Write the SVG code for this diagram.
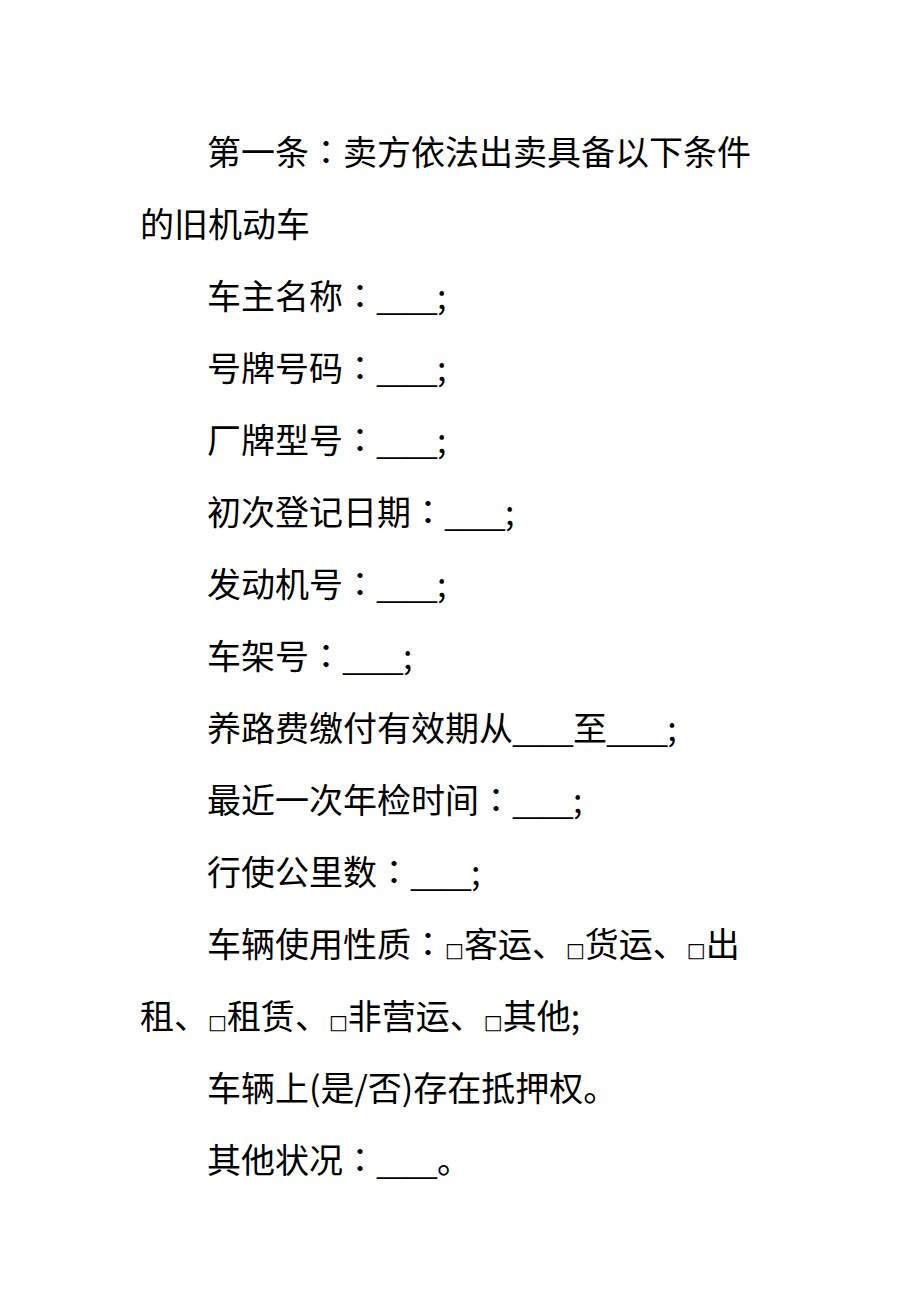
<svg xmlns="http://www.w3.org/2000/svg" width="920" height="1302" viewBox="0 0 920 1302">
<style>
text{font-family:"Noto Sans CJK SC","Noto Sans",sans-serif;font-size:34px;fill:#000}
.b{font-family:"DejaVu Sans",sans-serif;font-size:20px}
.c{font-family:"Noto Sans CJK TC",sans-serif}
.u{font-family:"Liberation Sans",sans-serif;font-size:27px}
</style>
<rect width="920" height="1302" fill="#fff"/>
<g id="doc">
<text x="207" y="165">第一条<tspan class="c">：</tspan>卖方依法出卖具备以下条件</text>
<text x="140" y="237">的旧机动车</text>
<text x="207" y="309">车主名称<tspan class="c">：</tspan><tspan class="u">____</tspan>;</text>
<text x="207" y="381">号牌号码<tspan class="c">：</tspan><tspan class="u">____</tspan>;</text>
<text x="207" y="453">厂牌型号<tspan class="c">：</tspan><tspan class="u">____</tspan>;</text>
<text x="207" y="525">初次登记日期<tspan class="c">：</tspan><tspan class="u">____</tspan>;</text>
<text x="207" y="597">发动机号<tspan class="c">：</tspan><tspan class="u">____</tspan>;</text>
<text x="207" y="669">车架号<tspan class="c">：</tspan><tspan class="u">____</tspan>;</text>
<text x="207" y="741">养路费缴付有效期从<tspan class="u">____</tspan>至<tspan class="u">____</tspan>;</text>
<text x="207" y="813">最近一次年检时间<tspan class="c">：</tspan><tspan class="u">____</tspan>;</text>
<text x="207" y="885">行使公里数<tspan class="c">：</tspan><tspan class="u">____</tspan>;</text>
<text x="207" y="957">车辆使用性质<tspan class="c">：</tspan><tspan class="b">□</tspan>客运、<tspan class="b">□</tspan>货运、<tspan class="b">□</tspan>出</text>
<text x="140" y="1029">租、<tspan class="b">□</tspan>租赁、<tspan class="b">□</tspan>非营运、<tspan class="b">□</tspan>其他;</text>
<text x="207" y="1101">车辆上(是/否)存在抵押权。</text>
<text x="207" y="1173">其他状况<tspan class="c">：</tspan><tspan class="u">____</tspan>。</text>
</g>
</svg>
